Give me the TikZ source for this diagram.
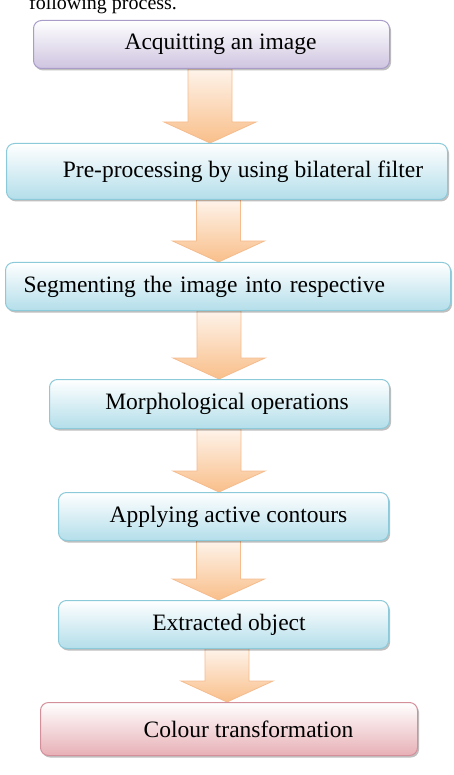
\documentclass[tikz,border=0pt]{standalone}
\usepackage{fontspec}
\setmainfont{Liberation Serif}
\usetikzlibrary{calc,shadows,backgrounds}
\definecolor{lavedge}{HTML}{A99CC8}
\definecolor{lavfill}{HTML}{CEC4E0}
\definecolor{skyedge}{HTML}{8CC9D9}
\definecolor{skyfill}{HTML}{B3DEEA}
\definecolor{roseedge}{HTML}{D4909A}
\definecolor{rosefill}{HTML}{E7B0B6}
\definecolor{peachedge}{HTML}{F5BC8E}
\definecolor{peachtop}{HTML}{FEF3EA}
\definecolor{peachbot}{HTML}{F9BF8A}
\tikzset{
  % ---- process boxes --------------------------------------------------
  procbox/.style={
    rounded corners=8pt, line width=1pt, anchor=north west, inner sep=2pt,
    font=\fontsize{23.5}{28}\selectfont, top color=white,
    drop shadow={shadow xshift=1.5pt, shadow yshift=-2pt,
                 fill=black, opacity=0.25}},
  procstart/.style={procbox, draw=lavedge, bottom color=lavfill},
  procstep/.style={procbox, draw=skyedge, bottom color=skyfill},
  procend/.style={procbox, draw=roseedge, bottom color=rosefill},
  % ---- block arrows ---------------------------------------------------
  flowdown/.style={draw=peachedge, line width=0.8pt,
                   top color=peachtop, bottom color=peachbot},
}
% block arrow from the box #1 down to the box #2, centred at x = #3
\newcommand\flowarrow[3]{%
  \coordinate (ax) at (#3,0);
  \begin{scope}[on background layer]
  \draw[flowdown] ($(#1.south -| ax)+(-22,0)$) -- ($(#2.north -| ax)+(-22,-21)$)
    -- ($(#2.north -| ax)+(-46,-21)$) -- (#2.north -| ax)
    -- ($(#2.north -| ax)+(46,-21)$) -- ($(#2.north -| ax)+(22,-21)$)
    -- ($(#1.south -| ax)+(22,0)$) -- cycle;
  \end{scope}}

\begin{document}
\begin{tikzpicture}[x=1pt, y=-1pt]
\useasboundingbox (0,0) rectangle (453,775);
\clip (0,0) rectangle (453,775);

% ---- text line cut off at the top ------------------------------------
\node[font=\fontsize{20}{24}\selectfont, anchor=base west, inner sep=0pt]
  (lead) at (29,10) {following process.};

% ---- process boxes ---------------------------------------------------
\node[procstart, minimum width=356, minimum height=48] (acquire) at (33,20)
  {\hspace*{18pt}Acquitting an image};
\node[procstep, minimum width=441, minimum height=56] (prefilter) at (6,143)
  {\hspace*{32pt}Pre-processing by using bilateral filter};
\node[procstep, minimum height=48, text width=409, inner xsep=18pt, align=left]
  (segment) at (5,262) {Segmenting the image into respective};
\node[procstep, minimum width=340, minimum height=49] (morph) at (49,379)
  {\hspace*{15pt}Morphological operations};
\node[procstep, minimum width=330, minimum height=48] (contour) at (58,492)
  {\hspace*{10pt}Applying active contours};
\node[procstep, minimum width=330, minimum height=48] (extract) at (58,600)
  {\hspace*{11pt}Extracted object};
\node[procend, minimum width=377, minimum height=53] (colour) at (40,702)
  {\hspace*{39pt}Colour transformation};

% ---- arrows between the steps ----------------------------------------
\flowarrow{acquire}{prefilter}{210}
\flowarrow{prefilter}{segment}{218.5}
\flowarrow{segment}{morph}{219}
\flowarrow{morph}{contour}{219}
\flowarrow{contour}{extract}{218.5}
\flowarrow{extract}{colour}{227}

\end{tikzpicture}
\end{document}
